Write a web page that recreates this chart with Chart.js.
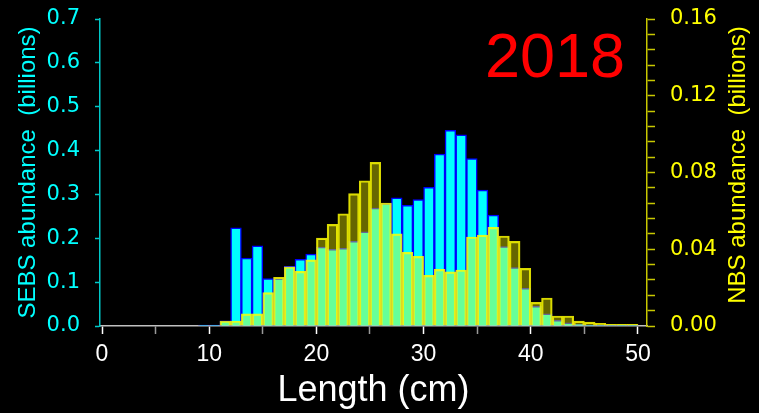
<!DOCTYPE html>
<html>
<head>
<meta charset="utf-8">
<script src="https://cdn.jsdelivr.net/npm/chart.js@4/dist/chart.umd.min.js"></script>
<style>
  html, body { margin: 0; padding: 0; background: #000; }
  canvas { display: block; background: #000; }
</style>
</head>
<body>
<canvas id="lengthChart" width="759" height="413"></canvas>
<script>
// length bins (cm, lower edge), 1 cm wide
const lengthBins = Array.from({ length: 50 }, (_, i) => i);

// SEBS abundance (billions), left axis
const sebsValues = [
    0, 0, 0, 0, 0, 0, 0, 0, 0, 0.002,
    0.002, 0.012, 0.224, 0.155, 0.183, 0.108, 0.108, 0.136, 0.152, 0.164,
    0.180, 0.175, 0.177, 0.193, 0.215, 0.269, 0.279, 0.292, 0.275, 0.288,
    0.316, 0.392, 0.446, 0.436, 0.382, 0.310, 0.253, 0.181, 0.133, 0.086,
    0.045, 0.028, 0.013, 0.007, 0.004, 0.002, 0.001, 0.001, 0.0005, 0.0005
];

// NBS abundance (billions), right axis
const nbsValues = [
    0, 0, 0, 0, 0, 0, 0, 0, 0, 0,
    0, 0.0026, 0.0026, 0.0063, 0.0063, 0.0174, 0.0254, 0.0309, 0.0285, 0.0345,
    0.0458, 0.053, 0.0585, 0.069, 0.0757, 0.0853, 0.0641, 0.048, 0.0384, 0.0363,
    0.0264, 0.0295, 0.0282, 0.0292, 0.0464, 0.0474, 0.0514, 0.0469, 0.0441, 0.030,
    0.0123, 0.0146, 0.0052, 0.0052, 0.0025, 0.002, 0.0014, 0.0009, 0.0009, 0.0009
];

const xTicks = [0, 5, 10, 15, 20, 25, 30, 35, 40, 45, 50];
const sebsTicks = [0, 0.1, 0.2, 0.3, 0.4, 0.5, 0.6, 0.7];
const nbsTicks = Array.from({ length: 21 }, (_, i) => i * 0.008);
const yearLabel = "2018";

const FONT = "'Liberation Sans', Arial, sans-serif";
const TICK_FONT = "'DejaVu Sans', sans-serif";
Chart.defaults.font.family = FONT;

function toPoints(values) {
    return lengthBins.map((b, i) => ({ x: b + 0.5, y: values[i] > 0 ? values[i] : null }));
}

// keep the tick label padding from pushing the plot area down
function fixVertical(width) {
    return function (scale) {
        scale.width = width;
        scale.paddingTop = 10;
        scale.paddingBottom = 10;
    };
}

// right title (reads bottom to top) and year label
const extraText = {
    id: "extraText",
    afterDraw(chart) {
        const ctx = chart.ctx;
        ctx.save();
        ctx.fillStyle = "#ffff00";
        ctx.font = "24px " + FONT;
        ctx.textAlign = "center";
        ctx.textBaseline = "middle";
        ctx.translate(738, 165);
        ctx.rotate(-Math.PI / 2);
        ctx.fillText("NBS abundance  (billions)", 0, 0);
        ctx.restore();

        ctx.save();
        ctx.fillStyle = "#ff0000";
        ctx.font = "63px " + FONT;
        ctx.textAlign = "center";
        ctx.textBaseline = "alphabetic";
        ctx.fillText(yearLabel, 555, 77);
        ctx.restore();
    }
};

const canvasElement = document.getElementById("lengthChart");

new Chart(canvasElement.getContext("2d"), {
    type: "bar",
    data: {
        datasets: [
            {
                label: "NBS",
                data: toPoints(nbsValues),
                yAxisID: "y2",
                order: 0,
                backgroundColor: "rgba(255,255,0,0.4)",
                borderColor: "rgba(255,255,0,0.85)",
                borderWidth: 1.5
            },
            {
                label: "SEBS",
                data: toPoints(sebsValues),
                yAxisID: "y",
                order: 1,
                backgroundColor: "#00ffff",
                borderColor: "#0000ff",
                borderWidth: 1.5
            }
        ]
    },
    options: {
        responsive: false,
        animation: false,
        grouped: false,
        barPercentage: 1,
        categoryPercentage: 1,
        layout: { padding: { top: 19, left: 0, right: 0, bottom: 0 } },
        plugins: {
            legend: { display: false },
            tooltip: { enabled: false }
        },
        scales: {
            x: {
                type: "linear",
                offset: false,
                min: -0.187,
                max: 50.84,
                afterFit(scale) { scale.height = 87; },
                afterBuildTicks(scale) { scale.ticks = xTicks.map(v => ({ value: v })); },
                border: { display: true, color: "#c0c0c0", width: 1.5 },
                grid: {
                    drawOnChartArea: false,
                    drawTicks: true,
                    offset: false,
                    tickLength: 8,
                    tickWidth: 1.5,
                    color: ctx => (ctx.tick && ctx.tick.value % 10 === 0 ? "#ffffff" : "#999999")
                },
                ticks: {
                    color: "#ffffff",
                    font: { size: 23 },
                    padding: 7,
                    maxRotation: 0,
                    autoSkip: false,
                    callback: v => (v % 10 === 0 ? String(v) : "")
                },
                title: {
                    display: true,
                    text: "Length (cm)",
                    color: "#ffffff",
                    font: { size: 36 },
                    padding: { top: 0, bottom: 0 }
                }
            },
            y: {
                position: "left",
                min: 0,
                max: 0.7,
                afterFit: fixVertical(100),
                afterBuildTicks(scale) { scale.ticks = sebsTicks.map(v => ({ value: v })); },
                border: { display: true, color: "#00c8c8", width: 1.5 },
                grid: {
                    drawOnChartArea: false,
                    tickLength: 5,
                    tickWidth: 1.5,
                    color: "#00c8c8"
                },
                ticks: {
                    color: "#00ffff",
                    font: { family: TICK_FONT, size: 21 },
                    padding: 15,
                    autoSkip: false,
                    callback: v => v.toFixed(1)
                },
                title: {
                    display: true,
                    text: "SEBS abundance  (billions)",
                    color: "#00ffff",
                    font: { size: 24 },
                    padding: { top: 14, bottom: 0 }
                }
            },
            y2: {
                position: "right",
                min: 0,
                max: 0.16,
                afterFit: fixVertical(112),
                afterBuildTicks(scale) { scale.ticks = nbsTicks.map(v => ({ value: v })); },
                border: { display: true, color: "#c8c800", width: 1.5 },
                grid: {
                    drawOnChartArea: false,
                    tickLength: 8,
                    tickWidth: 1.5,
                    color: "#c8c800"
                },
                ticks: {
                    color: "#ffff00",
                    font: { family: TICK_FONT, size: 21 },
                    padding: 15,
                    autoSkip: false,
                    callback: (v, i) => (i % 5 === 0 ? v.toFixed(2) : "")
                }
            }
        }
    },
    plugins: [extraText]
});
</script>
</body>
</html>
